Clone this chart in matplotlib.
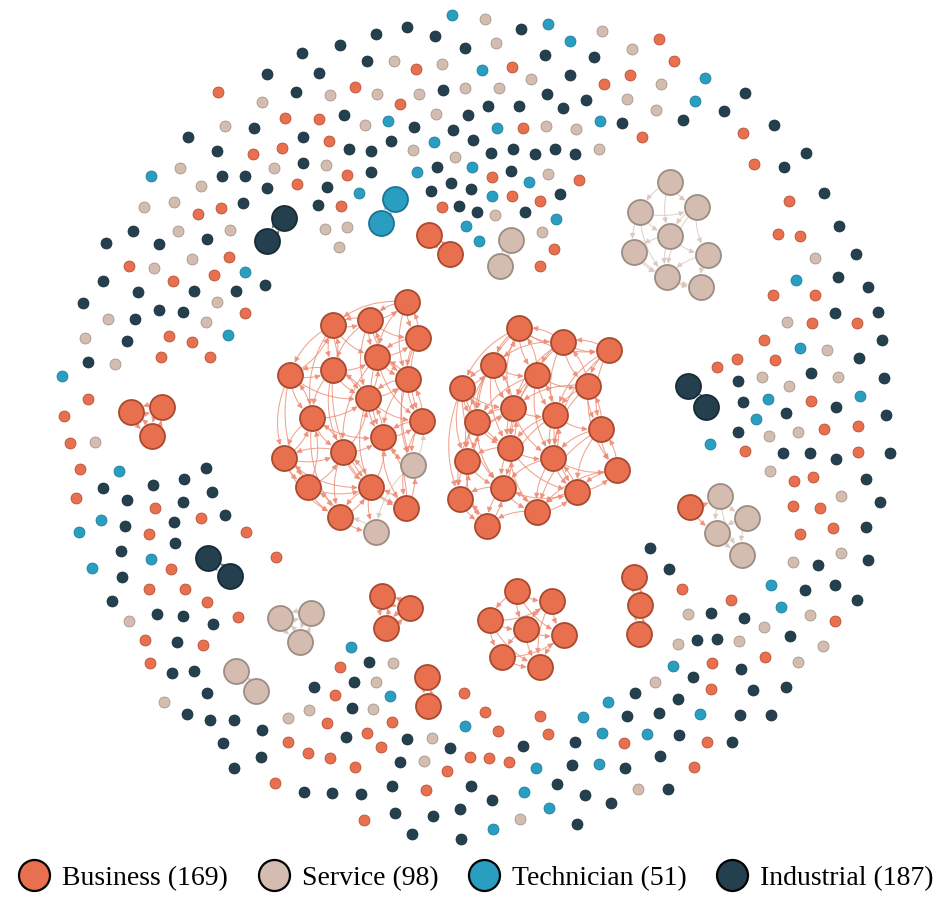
import matplotlib
matplotlib.use('Agg')
import matplotlib.pyplot as plt
from matplotlib.patches import FancyArrowPatch
from matplotlib.lines import Line2D

# ---------------- data ----------------
categories = ['Business', 'Service', 'Technician', 'Industrial']
category_keys = ['B', 'S', 'T', 'I']
category_counts = [169, 98, 51, 187]

fill_colors = {'B': '#E8704E', 'S': '#D4BDB0', 'T': '#2A9EC1', 'I': '#24404E'}
border_colors = {'B': '#A9492F', 'S': '#9C8C82', 'T': '#1C7491', 'I': '#162B35'}
link_colors = {'B': '#EE8B73', 'S': '#D9C7BC', 'T': '#62B7D1', 'I': '#52707E'}

# isolated nodes (layout positions, pixel space)
single_B = [(416,69),(218,92),(355,87),(400,104),(285,118),(319,119),(329,141),(253,154),(282,148),
            (347,175),(492,177),(297,184),(198,214),(221,208),(341,206),(442,207),(229,257),(129,266),
            (214,275),(173,281),(245,313),(169,336),(192,342),(161,357),(210,357),(88,399),(64,416),
            (70,443),(80,469),(76,498),(155,508),(201,518),(149,534),(246,532),(171,569),(276,557),
            (149,589),(185,589),(207,602),(238,617),(145,640),(203,645),(150,663),(340,667),(335,695),
            (327,723),(392,722),(464,693),(485,712),(498,731),(288,742),(367,733),(308,753),(330,758),
            (381,747),(355,767),(447,771),(470,757),(489,758),(275,783),(426,790),(364,820),(682,589),
            (731,600),(835,621),(765,657),(712,663),(711,689),(540,716),(548,734),(624,743),(707,742),
            (509,762),(694,767),(773,295),(815,295),(812,323),(857,323),(764,340),(737,359),(775,360),
            (717,367),(811,401),(824,429),(858,426),(745,451),(858,452),(794,481),(813,477),(793,506),
            (820,508),(833,528),(800,534),(659,39),(674,61),(512,67),(630,75),(604,84),(523,128),
            (642,137),(743,133),(754,164),(579,180),(512,196),(540,201),(789,201),(554,249),(540,266),
            (778,234),(800,236)]
single_S = [(485,19),(496,43),(394,61),(442,64),(330,95),(377,94),(419,94),(465,88),(499,88),(262,102),
            (365,125),(436,114),(225,126),(413,150),(455,157),(180,168),(274,168),(326,165),(201,186),
            (144,207),(174,202),(495,215),(178,231),(230,230),(325,229),(347,227),(339,247),(192,259),
            (154,268),(108,319),(217,302),(206,322),(85,338),(115,364),(95,442),(129,621),(164,702),
            (393,663),(376,682),(309,710),(288,718),(373,709),(432,738),(424,761),(688,614),(810,615),
            (764,627),(823,646),(678,644),(739,641),(798,662),(655,682),(638,789),(520,819),(787,322),
            (827,350),(762,377),(789,386),(838,377),(769,436),(798,432),(770,471),(841,496),(841,553),
            (793,562),(602,31),(632,49),(531,79),(661,84),(627,99),(656,110),(546,126),(576,129),
            (599,149),(548,174),(542,232),(815,258)]
single_T = [(452,15),(482,70),(388,121),(497,128),(434,142),(151,176),(417,172),(472,167),(359,193),
            (492,196),(466,226),(479,241),(245,272),(228,335),(62,376),(119,471),(101,520),(79,532),
            (151,559),(92,568),(351,647),(390,696),(465,726),(493,829),(771,585),(781,607),(673,666),
            (608,702),(583,717),(700,714),(602,733),(647,734),(536,768),(599,764),(524,792),(549,808),
            (796,280),(800,348),(768,399),(860,396),(756,419),(710,444),(548,24),(570,41),(705,78),
            (695,101),(600,121),(529,182),(556,219)]
single_I = [(407,27),(376,34),(435,36),(340,45),(465,48),(302,53),(367,61),(267,74),(319,73),(296,92),
            (443,90),(488,106),(344,115),(468,115),(254,128),(414,127),(453,130),(188,137),(303,137),
            (349,149),(371,151),(391,141),(473,140),(217,151),(491,153),(222,176),(245,176),(303,163),
            (371,172),(437,167),(267,188),(327,187),(431,191),(451,183),(471,189),(243,203),(318,205),
            (459,206),(477,212),(133,231),(106,243),(159,244),(207,239),(103,281),(265,285),(138,292),
            (194,291),(236,291),(83,303),(135,319),(159,310),(183,312),(127,341),(88,362),(206,468),
            (103,488),(153,485),(184,479),(127,500),(183,502),(212,492),(125,526),(174,522),(225,515),
            (175,543),(121,551),(122,577),(112,601),(157,614),(183,616),(213,624),(177,642),(172,673),
            (194,671),(207,693),(187,714),(210,720),(234,720),(262,730),(223,743),(261,757),(234,768),
            (369,662),(314,687),(354,682),(352,708),(346,737),(407,739),(450,748),(400,762),(304,792),
            (332,793),(361,794),(392,786),(471,786),(492,800),(395,813),(433,816),(460,809),(412,834),
            (461,839),(669,569),(805,590),(835,585),(857,600),(711,613),(744,618),(790,636),(697,640),
            (717,639),(741,669),(693,677),(753,690),(786,687),(635,693),(678,699),(627,716),(659,713),
            (740,715),(771,715),(523,746),(575,742),(679,735),(732,742),(572,765),(625,768),(660,756),
            (557,784),(585,795),(611,803),(668,789),(577,824),(838,277),(868,287),(835,313),(878,312),
            (882,340),(859,358),(738,381),(811,373),(884,378),(743,402),(836,407),(786,413),(886,415),
            (738,432),(783,453),(810,453),(836,459),(890,453),(866,479),(880,502),(866,527),(868,560),
            (818,565),(521,29),(545,55),(594,57),(570,75),(547,94),(519,106),(563,108),(586,100),
            (745,93),(724,111),(622,123),(683,120),(774,125),(513,149),(535,154),(555,149),(575,154),
            (806,153),(784,167),(511,171),(824,193),(560,194),(525,212),(839,226),(856,254),(650,548)]

singles = {'B': single_B, 'S': single_S, 'T': single_T, 'I': single_I}

# connected components: nodes (x, y, category) and directed links (source, target)
left_nodes = [(407,302,'B'),(333,325,'B'),(370,320,'B'),(418,338,'B'),(377,357,'B'),(290,375,'B'),
              (333,370,'B'),(408,379,'B'),(312,418,'B'),(368,398,'B'),(422,421,'B'),(383,437,'B'),
              (343,452,'B'),(284,458,'B'),(413,465,'S'),(308,487,'B'),(371,487,'B'),(406,508,'B'),
              (340,517,'B'),(376,532,'S')]
left_links = [(1,2),(2,1),(2,0),(0,3),(1,6),(6,1),(2,4),(4,3),(3,7),(4,7),(5,6),(6,5),(5,8),(6,9),
              (9,4),(6,4),(7,10),(9,10),(9,7),(8,12),(12,9),(8,13),(13,15),(15,8),(12,11),(11,10),
              (11,14),(10,14),(7,14),(12,16),(16,11),(15,18),(18,16),(16,17),(17,14),(18,19),(16,19),
              (13,18),(15,12),(8,9),(1,4),(2,3),(0,7),(3,10),(5,13),(6,8),(6,12),(9,11),(4,11),
              (12,18),(15,16),(13,12),(1,8),(4,10),(2,6),(0,4),(9,16),(11,17),(8,18),(5,15),(1,5),
              (7,11),(3,14),(12,17),(6,16),(2,9),(4,12),(14,19),
              (0,2),(3,4),(7,9),(10,11),(13,8),(18,15),(17,16),(19,18),(14,10),(0,1),(5,1),(8,5),
              (12,13),(16,12),(10,7),(11,9),(3,0),(4,2),(9,6),(12,8),(15,13),(16,18),(17,11),(1,9),
              (5,9),(8,11),(13,16),(10,17),(7,4),(2,7)]

right_nodes = [(519,328,'B'),(563,342,'B'),(609,350,'B'),(493,365,'B'),(537,375,'B'),(588,386,'B'),
               (462,388,'B'),(513,408,'B'),(555,415,'B'),(477,422,'B'),(601,429,'B'),(510,448,'B'),
               (553,458,'B'),(467,461,'B'),(617,470,'B'),(503,488,'B'),(577,492,'B'),(460,499,'B'),
               (537,512,'B'),(487,526,'B')]
right_links = [(0,1),(1,2),(0,3),(0,4),(1,4),(1,5),(2,5),(3,4),(3,6),(3,7),(4,7),(4,8),(5,8),(5,10),
               (2,10),(6,9),(7,9),(7,8),(8,10),(7,11),(9,11),(8,12),(11,12),(10,12),(10,14),(9,13),
               (11,13),(13,15),(11,15),(12,15),(12,16),(14,16),(13,17),(15,17),(15,18),(16,18),(17,19),
               (15,19),(18,19),(6,13),(3,9),(1,8),(4,11),(0,7),(5,12),(8,11),(12,18),(9,15),(7,12),
               (1,3),(4,5),(6,7),(11,16),(13,19),(10,16),(2,8),(4,9),(5,7),(8,15),(11,18),(3,11),
               (1,7),(9,17),(12,14),(0,6),(7,13),(8,16),(4,12),(6,11),(15,16),(0,2),(14,18),(6,17),
               (1,0),(2,1),(3,0),(4,0),(5,1),(6,3),(7,3),(8,4),(9,6),(10,5),(11,7),(12,8),(13,9),
               (15,11),(16,12),(17,13),(18,15),(19,17),(3,13),(0,9),(2,12),(5,14),(6,15),(10,18),
               (1,11),(14,10),(16,14),(18,16),(19,15),(9,7)]

service_nodes = [(670,182,'S'),(640,212,'S'),(697,207,'S'),(670,236,'S'),(634,252,'S'),(708,255,'S'),
                 (667,277,'S'),(701,287,'S')]
service_links = [(0,1),(0,2),(1,3),(2,3),(1,4),(3,4),(2,5),(3,5),(4,6),(3,6),(5,6),(5,7),(6,7),
                 (1,6),(2,6),(4,7),(1,2),(0,3)]

middle_nodes = [(517,591,'B'),(552,601,'B'),(490,620,'B'),(526,629,'B'),(564,635,'B'),(502,657,'B'),
                (540,667,'B')]
middle_links = [(0,1),(0,2),(2,3),(0,3),(1,3),(1,4),(3,4),(2,5),(3,5),(3,6),(5,6),(4,6),(2,1),
                (0,4),(5,4),(2,6),(1,6)]

mixed_nodes = [(690,507,'B'),(720,496,'S'),(747,518,'S'),(717,533,'S'),(742,555,'S')]
mixed_links = [(0,1),(0,3),(1,2),(1,3),(2,3),(2,4),(3,4),(1,4)]

small_groups = [
    [(284,218,'I'),(267,241,'I')],
    [(395,199,'T'),(381,223,'T')],
    [(429,235,'B'),(450,254,'B')],
    [(511,240,'S'),(500,266,'S')],
    [(688,386,'I'),(706,407,'I')],
    [(131,412,'B'),(162,407,'B'),(152,436,'B')],
    [(208,558,'I'),(230,576,'I')],
    [(280,618,'S'),(311,613,'S'),(300,642,'S')],
    [(236,671,'S'),(256,691,'S')],
    [(382,596,'B'),(410,608,'B'),(386,628,'B')],
    [(427,677,'B'),(428,706,'B')],
    [(634,577,'B'),(640,605,'B'),(639,634,'B')],
]
small_links = [
    [(0,1),(1,0)], [(0,1),(1,0)], [(0,1),(1,0)], [(0,1),(1,0)], [(0,1),(1,0)],
    [(0,1),(1,0),(0,2),(2,0),(1,2),(2,1)],
    [(0,1),(1,0)],
    [(0,1),(1,0),(0,2),(2,0),(1,2),(2,1)],
    [(0,1),(1,0)],
    [(0,1),(1,0),(0,2),(2,0),(1,2),(2,1)],
    [(0,1),(1,0)],
    [(0,1),(1,0),(1,2),(2,1)],
]

# ---------------- drawing ----------------
W, H = 943, 898
fig = plt.figure(figsize=(W / 100, H / 100), dpi=100)
ax = fig.add_axes([0, 0, 1, 1])
ax.set_xlim(0, W)
ax.set_ylim(H, 0)
ax.axis('off')

PX = 0.72  # points per pixel at dpi 100
BIG_D = 25
SMALL_D = 11


def draw_component(nodes, links, rad):
    for s, t in links:
        xs, ys, cs = nodes[s]
        xt, yt, ct = nodes[t]
        arr = FancyArrowPatch((xs, ys), (xt, yt),
                              connectionstyle=f'arc3,rad={rad}',
                              arrowstyle='-|>,head_length=0.45,head_width=0.22',
                              mutation_scale=7, lw=0.75, color=link_colors[cs],
                              alpha=0.8, shrinkA=BIG_D / 2 * PX, shrinkB=BIG_D / 2 * PX + 0.5,
                              zorder=1)
        ax.add_patch(arr)
    for k in category_keys:
        pts = [(x, y) for x, y, c in nodes if c == k]
        if pts:
            ax.scatter([p[0] for p in pts], [p[1] for p in pts], s=(BIG_D * PX) ** 2,
                       c=fill_colors[k], edgecolors=border_colors[k], linewidths=1.3, zorder=3)


draw_component(left_nodes, left_links, 0.22)
draw_component(right_nodes, right_links, 0.22)
draw_component(service_nodes, service_links, 0.2)
draw_component(middle_nodes, middle_links, 0.2)
draw_component(mixed_nodes, mixed_links, 0.15)
for nodes, links in zip(small_groups, small_links):
    draw_component(nodes, links, 0.25)

for k in category_keys:
    pts = singles[k]
    ax.scatter([p[0] for p in pts], [p[1] for p in pts], s=(SMALL_D * PX) ** 2,
               c=fill_colors[k], edgecolors=border_colors[k], linewidths=0.5, zorder=3)

handles = [Line2D([], [], ls='', marker='o', markersize=31 * PX,
                  markerfacecolor=fill_colors[k], markeredgecolor='black', markeredgewidth=1.6,
                  label=f'{name} ({n})')
           for name, k, n in zip(categories, category_keys, category_counts)]
fig.legend(handles=handles, loc='center', bbox_to_anchor=(0.505, 1 - 878 / H), ncol=4,
           frameon=False, prop={'family': 'Liberation Serif', 'size': 20},
           handlelength=1.12, handletextpad=0.45, columnspacing=1.08, borderpad=0, borderaxespad=0)

fig.savefig('out.png', dpi=100)
